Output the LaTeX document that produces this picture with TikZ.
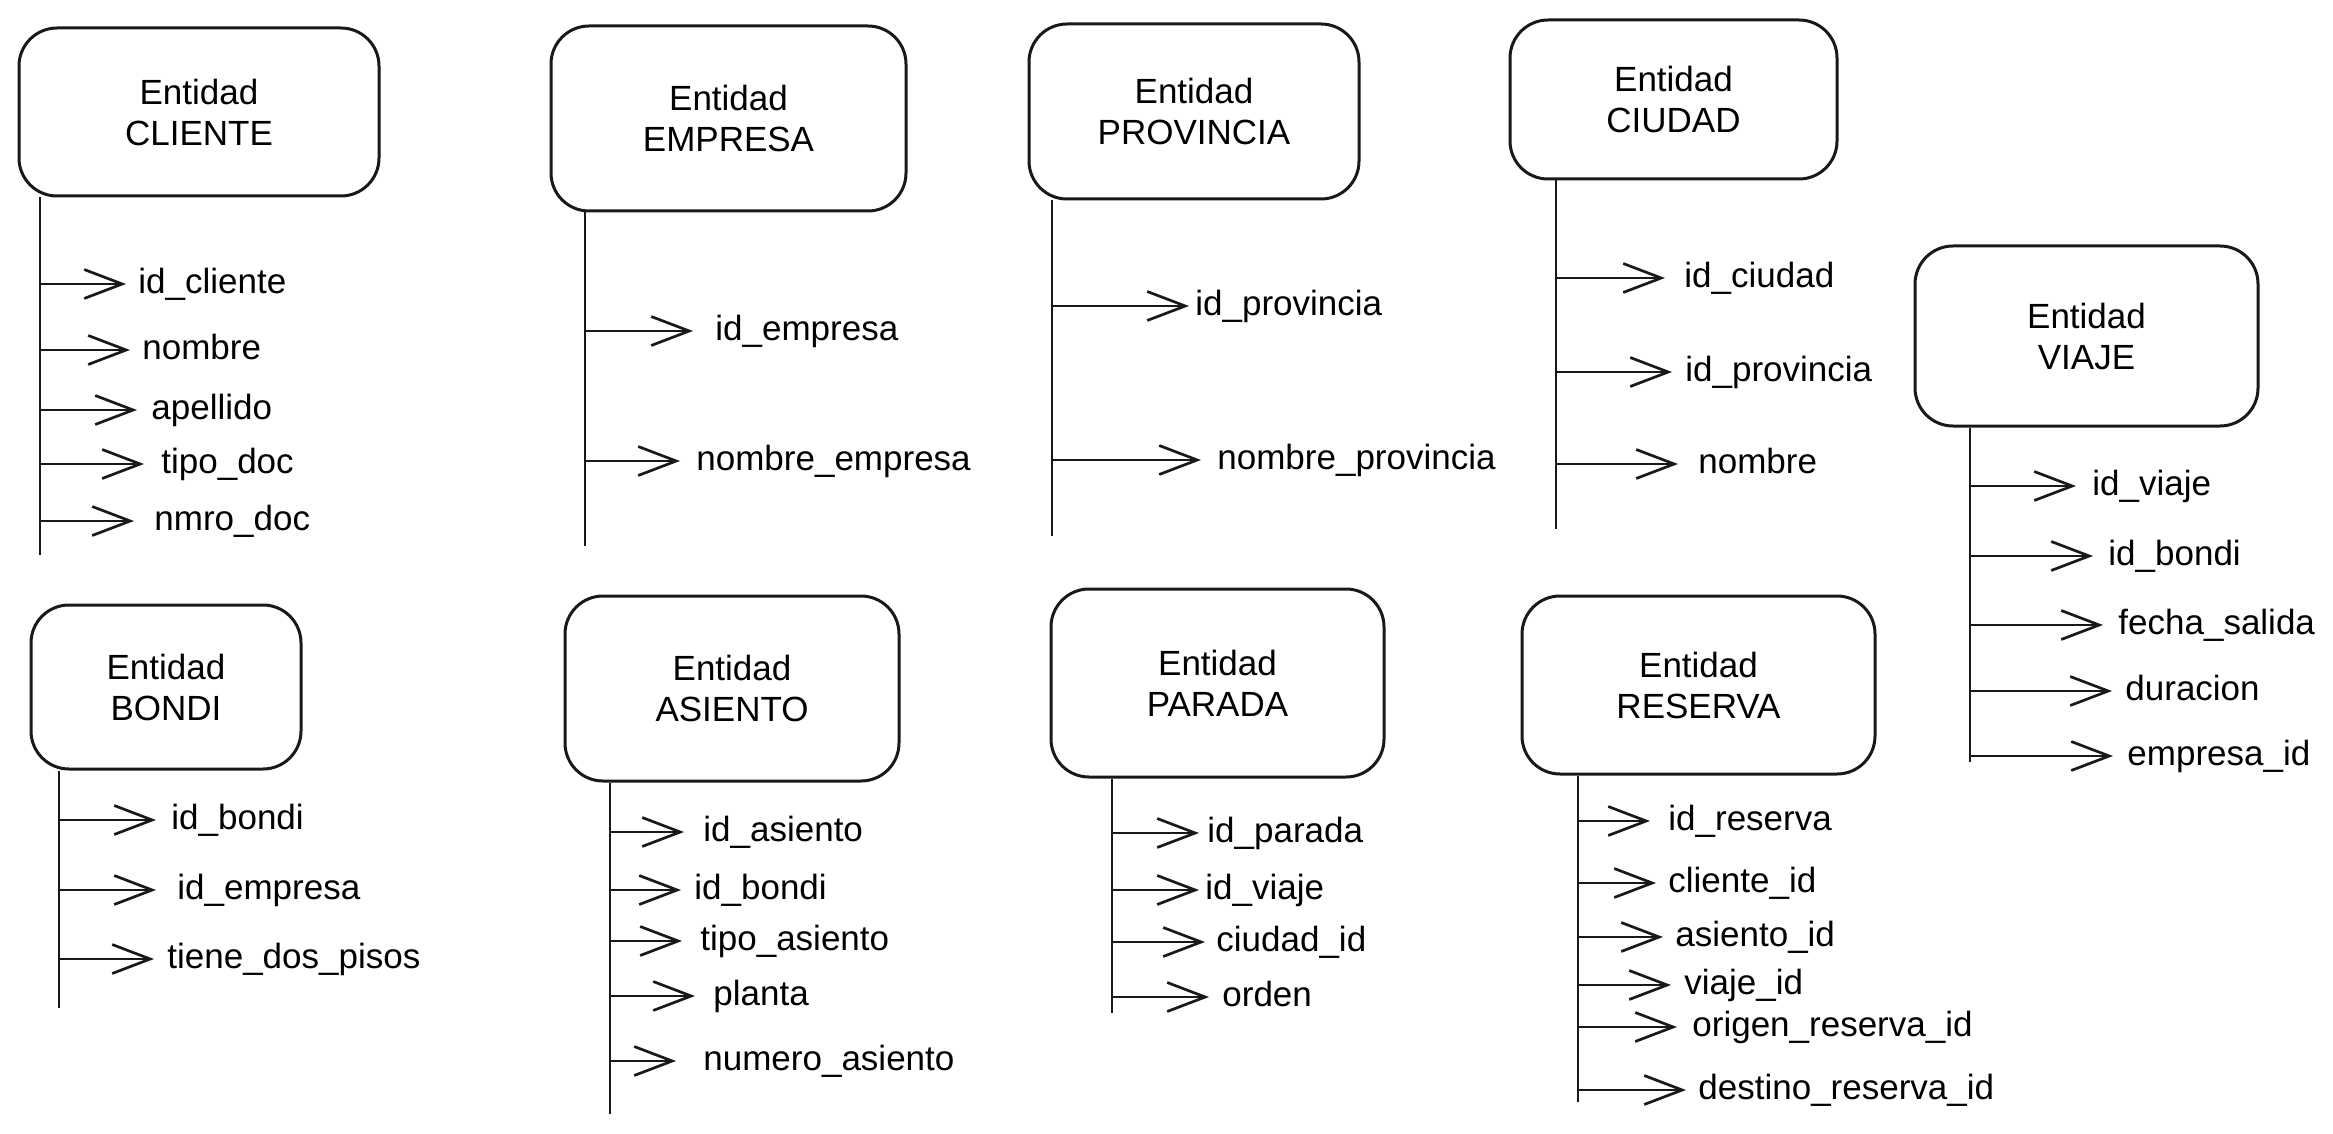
\documentclass[tikz,border=0pt]{standalone}
\usepackage{fontspec}
\setmainfont{Liberation Sans}
\usetikzlibrary{arrows.meta}
\begin{document}
\begin{tikzpicture}[x=0.5pt,y=-0.5pt,
  ent/.style={draw=black!90, line width=1.5pt, rounded corners=19pt, align=center,
    font=\fontsize{17.5}{20.5}\selectfont, inner sep=0pt},
  attr/.style={anchor=west, inner xsep=#1, inner ysep=0pt, text height=9pt,
    text depth=0pt, font=\fontsize{17.5}{20.5}\selectfont},
  attr/.default=6pt,
  stem/.style={draw=black!90, line width=1.3pt},
  arr/.style={draw=black!90, line width=1.35pt, -{Straight Barb[length=19pt,width=14.5pt]}}]
\useasboundingbox (0,0) rectangle (2333,1134);

% ---------- CLIENTE ----------
\node[ent, minimum width=180pt, minimum height=84pt] (cliente) at (199,112) {Entidad\\CLIENTE};
\coordinate (sCl) at (40,555);
\draw[stem] (cliente.south -| sCl) -- (sCl);
\node[attr=6pt] (cl1) at (126,284) {id\_cliente};
\node[attr=6pt] (cl2) at (130,350) {nombre};
\node[attr=7pt] (cl3) at (137,410) {apellido};
\node[attr=8.5pt] (cl4) at (144,464) {tipo\_doc};
\node[attr=10pt] (cl5) at (134,521) {nmro\_doc};
\foreach \n in {cl1,cl2,cl3,cl4,cl5} \draw[arr] (sCl |- \n) -- (\n.west);

% ---------- EMPRESA ----------
\node[ent, minimum width=177.5pt, minimum height=92.5pt] (empresa) at (728.5,118.5) {Entidad\\EMPRESA};
\coordinate (sEm) at (585,546);
\draw[stem] (empresa.south -| sEm) -- (sEm);
\node[attr=11pt] (em1) at (693,331) {id\_empresa};
\node[attr=8pt] (em2) at (680,461) {nombre\_empresa};
\foreach \n in {em1,em2} \draw[arr] (sEm |- \n) -- (\n.west);

% ---------- PROVINCIA ----------
\node[ent, minimum width=165pt, minimum height=87.5pt] (provincia) at (1194,111.5) {Entidad\\PROVINCIA};
\coordinate (sPr) at (1052,536);
\draw[stem] (provincia.south -| sPr) -- (sPr);
\node[attr=3pt] (pr1) at (1189,306) {id\_provincia};
\node[attr=8pt] (pr2) at (1201,460) {nombre\_provincia};
\foreach \n in {pr1,pr2} \draw[arr] (sPr |- \n) -- (\n.west);

% ---------- CIUDAD ----------
\node[ent, minimum width=163.5pt, minimum height=79.5pt] (ciudad) at (1673.5,99.5) {Entidad\\CIUDAD};
\coordinate (sCi) at (1556,529);
\draw[stem] (ciudad.south -| sCi) -- (sCi);
\node[attr=9.5pt] (ci1) at (1665,278) {id\_ciudad};
\node[attr=6.5pt] (ci2) at (1672,372) {id\_provincia};
\node[attr=10pt] (ci3) at (1678,464) {nombre};
\foreach \n in {ci1,ci2,ci3} \draw[arr] (sCi |- \n) -- (\n.west);

% ---------- VIAJE ----------
\node[ent, minimum width=171.5pt, minimum height=90pt] (viaje) at (2086.5,336) {Entidad\\VIAJE};
\coordinate (sVi) at (1970,762);
\draw[stem] (viaje.south -| sVi) -- (sVi);
\node[attr=8pt] (vi1) at (2076,486) {id\_viaje};
\node[attr=7.5pt] (vi2) at (2093,556) {id\_bondi};
\node[attr=7.5pt] (vi3) at (2103,625) {fecha\_salida};
\node[attr=6.5pt] (vi4) at (2112,691) {duracion};
\node[attr=7pt] (vi5) at (2113,756) {empresa\_id};
\foreach \n in {vi1,vi2,vi3,vi4,vi5} \draw[arr] (sVi |- \n) -- (\n.west);

% ---------- BONDI ----------
\node[ent, minimum width=135pt, minimum height=82pt] (bondi) at (166,687) {Entidad\\BONDI};
\coordinate (sBo) at (59,1008);
\draw[stem] (bondi.south -| sBo) -- (sBo);
\node[attr=7.5pt] (bo1) at (156,820) {id\_bondi};
\node[attr=10.5pt] (bo2) at (156,890) {id\_empresa};
\node[attr=6.5pt] (bo3) at (154,959) {tiene\_dos\_pisos};
\foreach \n in {bo1,bo2,bo3} \draw[arr] (sBo |- \n) -- (\n.west);

% ---------- ASIENTO ----------
\node[ent, minimum width=167pt, minimum height=92.5pt] (asiento) at (732,688.5) {Entidad\\ASIENTO};
\coordinate (sAs) at (610,1114);
\draw[stem] (asiento.south -| sAs) -- (sAs);
\node[attr=9.5pt] (as1) at (684,832) {id\_asiento};
\node[attr=6.5pt] (as2) at (681,890) {id\_bondi};
\node[attr=9pt] (as3) at (682,941) {tipo\_asiento};
\node[attr=9pt] (as4) at (695,996) {planta};
\node[attr=13.5pt] (as5) at (676,1061) {numero\_asiento};
\foreach \n in {as1,as2,as3,as4,as5} \draw[arr] (sAs |- \n) -- (\n.west);

% ---------- PARADA ----------
\node[ent, minimum width=166.5pt, minimum height=94pt] (parada) at (1217.5,683) {Entidad\\PARADA};
\coordinate (sPa) at (1112,1013);
\draw[stem] (parada.south -| sPa) -- (sPa);
\node[attr=4pt] (pa1) at (1199,833) {id\_parada};
\node[attr=3pt] (pa2) at (1199,890) {id\_viaje};
\node[attr=5.5pt] (pa3) at (1205,942) {ciudad\_id};
\node[attr=6.5pt] (pa4) at (1209,997) {orden};
\foreach \n in {pa1,pa2,pa3,pa4} \draw[arr] (sPa |- \n) -- (\n.west);

% ---------- RESERVA ----------
\node[ent, minimum width=176.5pt, minimum height=89pt] (reserva) at (1698.5,685) {Entidad\\RESERVA};
\coordinate (sRe) at (1578,1102);
\draw[stem] (reserva.south -| sRe) -- (sRe);
\node[attr=9pt] (re1) at (1650,821) {id\_reserva};
\node[attr=6pt] (re2) at (1656,883) {cliente\_id};
\node[attr=6pt] (re3) at (1663,937) {asiento\_id};
\node[attr=6.5pt] (re4) at (1671,985) {viaje\_id};
\node[attr=7.5pt] (re5) at (1677,1027) {origen\_reserva\_id};
\node[attr=6pt] (re6) at (1686,1090) {destino\_reserva\_id};
\foreach \n in {re1,re2,re3,re4,re5,re6} \draw[arr] (sRe |- \n) -- (\n.west);
\end{tikzpicture}
\end{document}
